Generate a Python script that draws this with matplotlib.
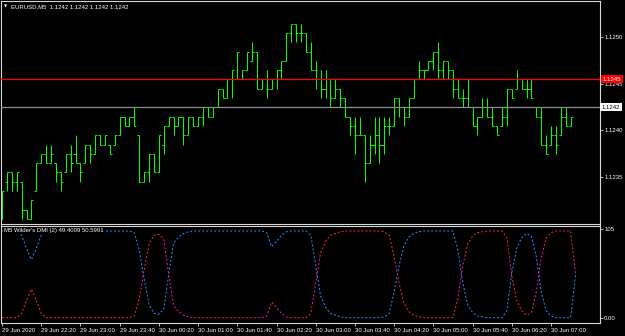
import matplotlib
matplotlib.use('Agg')
import matplotlib.pyplot as plt
import matplotlib.transforms as mtransforms
import numpy as np

# EURUSD M5 bars, 29 Jun 2020 21:40 -> 30 Jun 07:25 (118 bars)
opens = [1.1230, 1.1234, 1.1235, 1.1234, 1.1234, 1.1231, 1.1230, 1.1233, 1.1236, 1.1237,
         1.1236, 1.1236, 1.1235, 1.1235, 1.1237, 1.1237, 1.1236, 1.1236, 1.1238, 1.1237,
         1.1239, 1.1238, 1.1238, 1.1238, 1.1239, 1.1241, 1.1240, 1.1241, 1.1239, 1.1234,
         1.1235, 1.1237, 1.1235, 1.1238, 1.1240, 1.1241, 1.1240, 1.1241, 1.1239, 1.1241,
         1.1240, 1.1241, 1.1242, 1.1241, 1.1242, 1.1244, 1.1243, 1.1245, 1.1245, 1.1245,
         1.1246, 1.1247, 1.1248, 1.1244, 1.1245, 1.1244, 1.1245, 1.1246, 1.1247, 1.1250,
         1.1251, 1.1250, 1.1250, 1.1248, 1.1246, 1.1245, 1.1244, 1.1245, 1.1243, 1.1244,
         1.1243, 1.1241, 1.1240, 1.1239, 1.1239, 1.1236, 1.1238, 1.1239, 1.1238, 1.1240,
         1.1240, 1.1243, 1.1242, 1.1241, 1.1243, 1.1245, 1.1246, 1.1246, 1.1247, 1.1248,
         1.1246, 1.1247, 1.1246, 1.1244, 1.1243, 1.1243, 1.1242, 1.1240, 1.1241, 1.1242,
         1.1241, 1.1240, 1.1240, 1.1241, 1.1244, 1.1244, 1.1245, 1.1244, 1.1244, 1.1242,
         1.1241, 1.1238, 1.1238, 1.1239, 1.1239, 1.1241, 1.1240, 1.1242]
highs = [1.1233, 1.1235, 1.1235, 1.1235, 1.1234, 1.1231, 1.1232, 1.1236, 1.1237, 1.1238,
         1.1238, 1.1236, 1.1235, 1.1237, 1.1238, 1.1239, 1.1236, 1.1238, 1.1238, 1.1239,
         1.1239, 1.1239, 1.1238, 1.1239, 1.1241, 1.1241, 1.1241, 1.1242, 1.1239, 1.1235,
         1.1237, 1.1237, 1.1239, 1.1240, 1.1241, 1.1241, 1.1241, 1.1241, 1.1241, 1.1241,
         1.1241, 1.1242, 1.1242, 1.1242, 1.1244, 1.1244, 1.1245, 1.1246, 1.1248, 1.1246,
         1.1248, 1.1249, 1.1248, 1.1245, 1.1246, 1.1245, 1.1246, 1.1247, 1.1250, 1.1251,
         1.1251, 1.1251, 1.1250, 1.1249, 1.1247, 1.1246, 1.1246, 1.1245, 1.1245, 1.1244,
         1.1243, 1.1241, 1.1241, 1.1241, 1.1239, 1.1239, 1.1241, 1.1241, 1.1241, 1.1241,
         1.1243, 1.1243, 1.1242, 1.1243, 1.1245, 1.1247, 1.1246, 1.1247, 1.1248, 1.1249,
         1.1247, 1.1247, 1.1246, 1.1245, 1.1244, 1.1245, 1.1242, 1.1241, 1.1243, 1.1243,
         1.1242, 1.1240, 1.1242, 1.1244, 1.1244, 1.1246, 1.1245, 1.1245, 1.1245, 1.1242,
         1.1242, 1.1239, 1.1240, 1.1240, 1.1242, 1.1242, 1.1241, 1.1242]
lows = [1.1230, 1.1233, 1.1233, 1.1233, 1.1230, 1.1230, 1.1230, 1.1233, 1.1236, 1.1236,
        1.1236, 1.1234, 1.1233, 1.1235, 1.1235, 1.1236, 1.1234, 1.1236, 1.1236, 1.1237,
        1.1238, 1.1238, 1.1237, 1.1238, 1.1239, 1.1240, 1.1240, 1.1240, 1.1234, 1.1234,
        1.1234, 1.1235, 1.1235, 1.1237, 1.1240, 1.1239, 1.1240, 1.1238, 1.1239, 1.1240,
        1.1240, 1.1240, 1.1241, 1.1241, 1.1242, 1.1243, 1.1243, 1.1243, 1.1245, 1.1245,
        1.1246, 1.1247, 1.1244, 1.1244, 1.1243, 1.1244, 1.1244, 1.1245, 1.1247, 1.1249,
        1.1249, 1.1249, 1.1248, 1.1246, 1.1244, 1.1243, 1.1243, 1.1242, 1.1243, 1.1242,
        1.1241, 1.1239, 1.1237, 1.1239, 1.1234, 1.1236, 1.1237, 1.1236, 1.1237, 1.1239,
        1.1240, 1.1241, 1.1240, 1.1241, 1.1243, 1.1245, 1.1245, 1.1246, 1.1246, 1.1245,
        1.1245, 1.1245, 1.1243, 1.1243, 1.1242, 1.1242, 1.1240, 1.1239, 1.1241, 1.1241,
        1.1240, 1.1239, 1.1240, 1.1240, 1.1243, 1.1244, 1.1244, 1.1243, 1.1243, 1.1241,
        1.1238, 1.1237, 1.1238, 1.1237, 1.1239, 1.1240, 1.1240, 1.1242]
closes = [1.1233, 1.1235, 1.1234, 1.1235, 1.1231, 1.1230, 1.1232, 1.1236, 1.1237, 1.1236,
          1.1237, 1.1235, 1.1234, 1.1237, 1.1236, 1.1236, 1.1235, 1.1238, 1.1237, 1.1239,
          1.1238, 1.1239, 1.1237, 1.1239, 1.1241, 1.1240, 1.1241, 1.1240, 1.1234, 1.1235,
          1.1237, 1.1235, 1.1239, 1.1240, 1.1241, 1.1240, 1.1241, 1.1239, 1.1241, 1.1240,
          1.1241, 1.1242, 1.1241, 1.1242, 1.1244, 1.1243, 1.1245, 1.1246, 1.1248, 1.1246,
          1.1248, 1.1248, 1.1244, 1.1245, 1.1244, 1.1245, 1.1246, 1.1247, 1.1250, 1.1251,
          1.1250, 1.1250, 1.1248, 1.1246, 1.1245, 1.1244, 1.1245, 1.1243, 1.1244, 1.1243,
          1.1241, 1.1240, 1.1239, 1.1239, 1.1236, 1.1238, 1.1239, 1.1238, 1.1240, 1.1240,
          1.1243, 1.1242, 1.1241, 1.1243, 1.1245, 1.1246, 1.1246, 1.1247, 1.1248, 1.1246,
          1.1247, 1.1246, 1.1244, 1.1243, 1.1243, 1.1242, 1.1240, 1.1241, 1.1242, 1.1241,
          1.1240, 1.1239, 1.1241, 1.1244, 1.1243, 1.1245, 1.1244, 1.1244, 1.1243, 1.1241,
          1.1238, 1.1237, 1.1239, 1.1238, 1.1241, 1.1240, 1.1241, 1.1242]

# Wilder's DMI (2) lines
dmi_blue = [100, 100, 100, 100, 95, 80, 67, 80, 95, 100,
            100, 100, 100, 100, 100, 100, 100, 100, 100, 100,
            100, 100, 100, 100, 100, 100, 100, 98, 78, 45,
            15, 5, 4, 10, 50, 86, 93, 97, 99, 100,
            100, 100, 100, 100, 100, 100, 100, 100, 100, 100,
            100, 100, 100, 100, 98, 82, 88, 95, 99, 100,
            100, 100, 100, 95, 60, 25, 12, 5, 3, 1,
            0, 0, 0, 0, 0, 0, 0, 0, 1, 5,
            30, 60, 83, 93, 97, 99, 100, 100, 100, 100,
            100, 100, 100, 78, 40, 15, 6, 2, 1, 0,
            0, 0, 0, 8, 52, 80, 92, 97, 94, 70,
            30, 8, 2, 0, 0, 0, 0, 49.4009]
dmi_pink = [0, 0, 0, 0, 5, 20, 33, 20, 5, 0,
            0, 0, 0, 0, 0, 0, 0, 0, 0, 0,
            0, 0, 0, 0, 0, 0, 0, 2, 22, 55,
            85, 95, 96, 90, 50, 14, 7, 3, 1, 0,
            0, 0, 0, 0, 0, 0, 0, 0, 0, 0,
            0, 0, 0, 0, 2, 18, 12, 5, 1, 0,
            0, 0, 0, 5, 40, 75, 88, 95, 97, 99,
            100, 100, 100, 100, 100, 100, 100, 100, 99, 95,
            70, 40, 17, 7, 3, 1, 0, 0, 0, 0,
            0, 0, 0, 22, 60, 85, 94, 98, 99, 100,
            100, 100, 100, 92, 48, 20, 8, 3, 6, 30,
            70, 92, 98, 100, 100, 100, 100, 50.5991]

time_labels = ['29 Jun 2020', '29 Jun 22:20', '29 Jun 23:00', '29 Jun 23:40',
               '30 Jun 00:20', '30 Jun 01:00', '30 Jun 01:40', '30 Jun 02:20',
               '30 Jun 03:00', '30 Jun 03:40', '30 Jun 04:20', '30 Jun 05:00',
               '30 Jun 05:40', '30 Jun 06:20', '30 Jun 07:00']
price_ticks = [1.1250, 1.1245, 1.1240, 1.1235]
bid_price = 1.1242
red_price = 1.1245

W, H = 625, 336
FS = 4.3
plt.rcParams['font.family'] = ['Liberation Sans', 'DejaVu Sans']
fg = '#d8d8d8'
lime = '#00ff00'
LW = 0.72  # one pixel


def px_box(x0, y0, x1, y1):
    return [x0 / W, 1 - y1 / H, (x1 - x0) / W, (y1 - y0) / H]


fig = plt.figure(figsize=(W / 100, H / 100), dpi=100, facecolor='black')
ax1 = fig.add_axes(px_box(1, 1, 600, 223.5), facecolor='black')
ax2 = fig.add_axes(px_box(1, 225.5, 600, 323.3), facecolor='black')

x = np.arange(len(closes))
bar_px = 4.902
xl = (-1 / bar_px, 598 / bar_px)

# price bars
ax1.vlines(x, lows, highs, color=lime, lw=LW)
ax1.hlines(opens, x - 0.42, x, color=lime, lw=LW)
ax1.hlines(closes, x, x + 0.42, color=lime, lw=LW)
bl = ax1.axhline(bid_price, color='#8c8c94', lw=0.9, zorder=3)
rl = ax1.axhline(red_price, color='#ff0000', lw=0.9, zorder=3)
bl.set_snap(True)
rl.set_snap(True)
ax1.set_xlim(*xl)
ax1.set_ylim(1.1245 - 144.1 / 9.3 * 1e-4, 1.1245 + 78.4 / 9.3 * 1e-4)
ax1.set_xticks([])
ax1.yaxis.tick_right()
ax1.set_yticks([p - 0.000047 for p in price_ticks])
ax1.set_yticklabels(['%.4f' % p for p in price_ticks])
ax1.tick_params(axis='y', colors=fg, labelcolor='white', labelsize=FS,
                length=2, width=0.6, pad=1)

tr = mtransforms.blended_transform_factory(ax1.transAxes, ax1.transData)
ax1.text(1 + 3 / 599, red_price, '%.4f' % red_price, transform=tr, ha='left', va='center',
         color='white', fontsize=FS, zorder=6, clip_on=False,
         bbox=dict(facecolor='#ff0000', edgecolor='none', pad=1.1))
ax1.text(1 + 2 / 599, bid_price, '%.4f' % bid_price, transform=tr, ha='left', va='center',
         color='black', fontsize=FS, zorder=6, clip_on=False,
         bbox=dict(facecolor='white', edgecolor='none', pad=1.1))

fig.text(4 / W, 1 - 6.5 / H, '\u25bc', color='white', fontsize=3, va='center',
         family=['DejaVu Sans'])
fig.text(11 / W, 1 - 6.5 / H, 'EURUSD,M5  1.1242 1.1242 1.1242 1.1242',
         color='white', fontsize=FS, va='center')

# DMI sub window
ax2.plot(x, dmi_blue, color='#1e90ff', lw=LW, ls=(0, (2, 2)))
ax2.plot(x, dmi_pink, color='#ff1493', lw=LW, ls=(0, (2, 2)))
ax2.set_xlim(*xl)
ax2.set_ylim(-6.46, 106.3)
ax2.yaxis.tick_right()
ax2.set_yticks([102.3, -0.3])
ax2.set_yticklabels(['105', '0.00'])
ax2.tick_params(axis='y', colors=fg, labelcolor='white', labelsize=FS,
                length=2, width=0.6, pad=1)
ax2.set_xticks(x[::8][:len(time_labels)])
ax2.set_xticklabels(time_labels)
ax2.tick_params(axis='x', colors=fg, labelcolor='white', labelsize=FS,
                length=2.5, width=0.6, pad=0.6)
for lbl in ax2.get_xticklabels():
    lbl.set_horizontalalignment('left')
ax2.text(3 / 599, 100, "M5 Wilder's DMI (2) 49.4009 50.5991", color='white',
         fontsize=FS, va='center', ha='left',
         transform=mtransforms.blended_transform_factory(ax2.transAxes, ax2.transData),
         bbox=dict(facecolor='black', edgecolor='none', pad=0.6), zorder=5)

for ax in (ax1, ax2):
    for s in ax.spines.values():
        s.set_color(fg)
        s.set_linewidth(0.8)

fig.savefig('out.png', dpi=100, facecolor='black')
